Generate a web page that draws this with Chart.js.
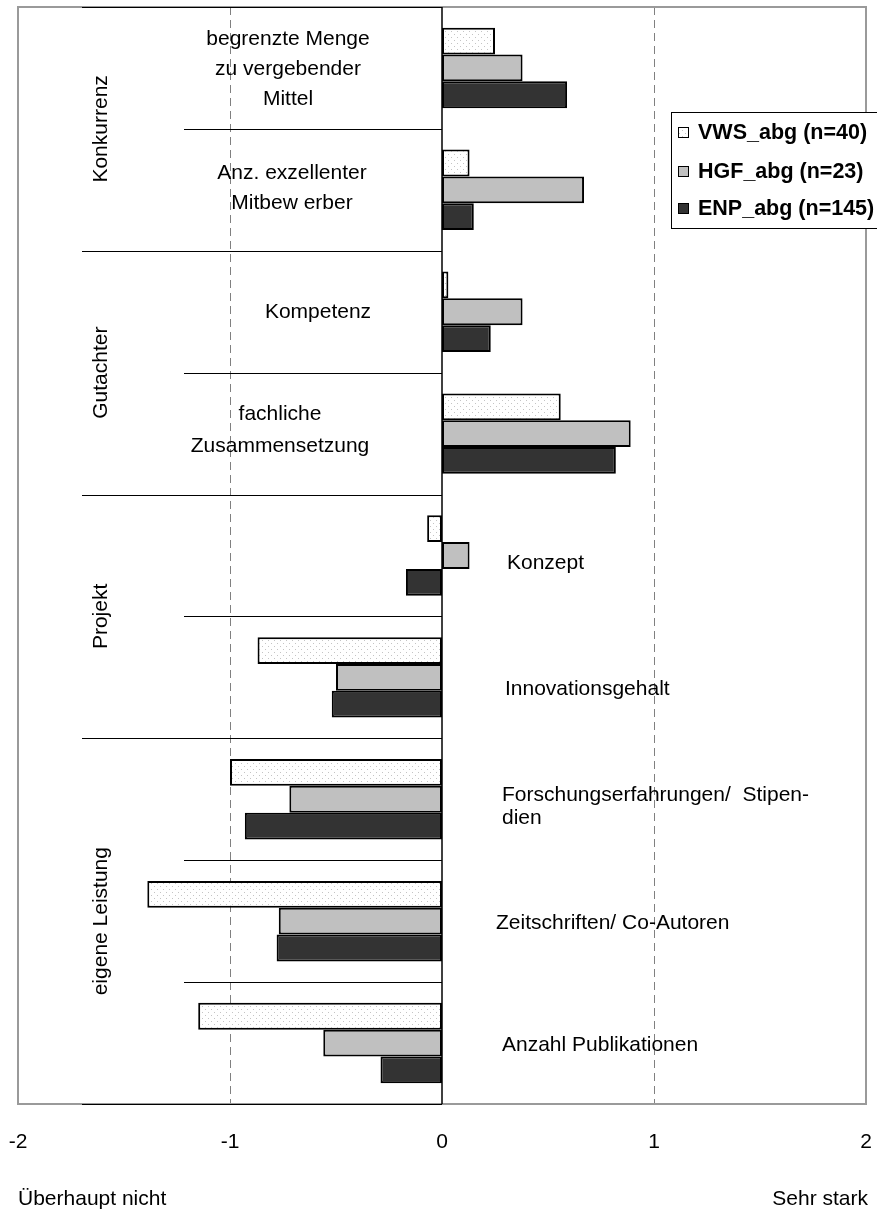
<!DOCTYPE html>
<html>
<head>
<meta charset="utf-8">
<script src="https://cdn.jsdelivr.net/npm/chart.js@4.4.0/dist/chart.umd.min.js"></script>
<style>
html, body { margin: 0; padding: 0; background: #fff; }
#chart { display: block; }
</style>
</head>
<body>
<canvas id="chart" width="877" height="1211"></canvas>
<script>
// Data
const categories = [
    ['begrenzte Menge', 'zu vergebender', 'Mittel'],
    ['Anz. exzellenter', 'Mitbew erber'],
    ['Kompetenz'],
    ['fachliche', 'Zusammensetzung'],
    ['Konzept'],
    ['Innovationsgehalt'],
    ['Forschungserfahrungen/  Stipen-', 'dien'],
    ['Zeitschriften/ Co-Autoren'],
    ['Anzahl Publikationen']
];
const groupNames = ['Konkurrenz', 'Gutachter', 'Projekt', 'eigene Leistung'];
const groupSizes = [2, 2, 2, 3];
const seriesNames = ['VWS_abg (n=40)', 'HGF_abg (n=23)', 'ENP_abg (n=145)'];
const vwsValues = [0.25, 0.13, 0.03, 0.56, -0.07, -0.87, -1.00, -1.39, -1.15];
const hgfValues = [0.38, 0.67, 0.38, 0.89, 0.13, -0.50, -0.72, -0.77, -0.56];
const enpValues = [0.59, 0.15, 0.23, 0.82, -0.17, -0.52, -0.93, -0.78, -0.29];
const xTickValues = [-2, -1, 0, 1, 2];
const scaleLabels = ['Überhaupt nicht', 'Sehr stark'];

// Where each category label sits (x in px, dy from row centre, line height)
const labelLayout = [
    { align: 'center', x: 288, dy: 1, lh: 30 },
    { align: 'center', x: 292, dy: -2, lh: 30 },
    { align: 'center', x: 318, dy: 0, lh: 30 },
    { align: 'center', x: 280, dy: -3, lh: 32 },
    { align: 'left', x: 507, dy: 8, lh: 30 },
    { align: 'left', x: 505, dy: 12, lh: 30 },
    { align: 'left', x: 502, dy: 7, lh: 23 },
    { align: 'left', x: 496, dy: 2, lh: 30 },
    { align: 'left', x: 502, dy: 2, lh: 30 }
];

const FONT = '"Liberation Sans", Arial, sans-serif';

// Dotted fill for the first series
function dotPattern() {
    const c = document.createElement('canvas');
    c.width = 6;
    c.height = 6;
    const g = c.getContext('2d');
    g.fillStyle = '#ffffff';
    g.fillRect(0, 0, 6, 6);
    g.fillStyle = '#c4c4c4';
    g.fillRect(1, 1, 1, 1);
    g.fillRect(4, 4, 1, 1);
    return g.createPattern(c, 'repeat');
}

const ctx = document.getElementById('chart').getContext('2d');
const dots = dotPattern();
const fills = [dots, '#c0c0c0', '#333333'];

const decorPlugin = {
    id: 'decor',
    beforeDatasetsDraw(chart) {
        const { ctx, chartArea: a, scales: { x } } = chart;
        ctx.save();
        // dashed lines at the inner ticks
        ctx.strokeStyle = '#808080';
        ctx.lineWidth = 1;
        ctx.setLineDash([8, 5]);
        xTickValues.filter(v => v !== 0 && v > x.min && v < x.max).forEach(v => {
            const px = Math.round(x.getPixelForValue(v)) + 0.5;
            ctx.beginPath();
            ctx.moveTo(px, a.top);
            ctx.lineTo(px, a.bottom);
            ctx.stroke();
        });
        ctx.setLineDash([]);
        // plot frame
        ctx.strokeStyle = '#9a9a9a';
        ctx.lineWidth = 2;
        ctx.strokeRect(a.left, a.top, a.right - a.left, a.bottom - a.top);
        ctx.restore();
    },
    afterDatasetsDraw(chart) {
        const { ctx, chartArea: a, scales: { x, y } } = chart;
        const x0 = x.getPixelForValue(0);
        const n = categories.length;
        const bound = i => i === 0 ? a.top : i === n ? a.bottom
            : (y.getPixelForValue(i - 1) + y.getPixelForValue(i)) / 2;

        ctx.save();
        // zero line
        ctx.strokeStyle = '#000';
        ctx.lineWidth = 1.5;
        ctx.beginPath();
        ctx.moveTo(x0, a.top);
        ctx.lineTo(x0, a.bottom);
        ctx.stroke();

        // separators left of zero
        const groupStarts = [0];
        groupSizes.forEach(s => groupStarts.push(groupStarts[groupStarts.length - 1] + s));
        ctx.lineWidth = 1;
        for (let i = 0; i <= n; i++) {
            const yy = Math.round(bound(i)) + 0.5;
            const from = groupStarts.includes(i) ? a.left + 64 : a.left + 166;
            ctx.beginPath();
            ctx.moveTo(from, yy);
            ctx.lineTo(x0, yy);
            ctx.stroke();
        }

        // group labels, rotated
        ctx.fillStyle = '#000';
        ctx.font = '21px ' + FONT;
        ctx.textAlign = 'center';
        ctx.textBaseline = 'middle';
        groupNames.forEach((name, gi) => {
            const cy = (bound(groupStarts[gi]) + bound(groupStarts[gi + 1])) / 2;
            ctx.save();
            ctx.translate(a.left + 83, cy);
            ctx.rotate(-Math.PI / 2);
            ctx.fillText(name, 0, 0);
            ctx.restore();
        });

        // category labels
        categories.forEach((lines, i) => {
            const L = labelLayout[i];
            const cy = y.getPixelForValue(i) + L.dy;
            ctx.textAlign = L.align;
            lines.forEach((t, k) => {
                ctx.fillText(t, L.x, cy + (k - (lines.length - 1) / 2) * L.lh);
            });
        });

        // scale end labels
        ctx.textAlign = 'left';
        ctx.fillText(scaleLabels[0], a.left, 1199);
        ctx.textAlign = 'right';
        ctx.fillText(scaleLabels[1], a.right + 2, 1199);

        // legend
        const lx = 671, ly = 112, lw = 220, lh = 116;
        ctx.fillStyle = '#fff';
        ctx.fillRect(lx, ly, lw, lh);
        ctx.strokeStyle = '#000';
        ctx.lineWidth = 1;
        ctx.strokeRect(lx + 0.5, ly + 0.5, lw, lh);
        const rows = [132, 171, 208];
        ctx.font = 'bold 21.5px ' + FONT;
        ctx.textAlign = 'left';
        seriesNames.forEach((name, i) => {
            ctx.fillStyle = fills[i];
            ctx.fillRect(678, rows[i] - 5, 11, 11);
            ctx.strokeRect(678.5, rows[i] - 4.5, 10, 10);
            ctx.fillStyle = '#000';
            ctx.fillText(name, 698, rows[i] + 1);
        });
        ctx.restore();
    }
};

const barStyle = {
    borderColor: '#000',
    borderWidth: 2,
    borderSkipped: false,
    categoryPercentage: 0.66,
    barPercentage: 1.0
};

new Chart(ctx, {
    type: 'bar',
    data: {
        labels: categories,
        datasets: [
            { label: seriesNames[0], data: vwsValues, backgroundColor: fills[0], ...barStyle },
            { label: seriesNames[1], data: hgfValues, backgroundColor: fills[1], ...barStyle },
            { label: seriesNames[2], data: enpValues, backgroundColor: fills[2], ...barStyle }
        ]
    },
    options: {
        indexAxis: 'y',
        responsive: false,
        animation: false,
        layout: { padding: { left: 18, right: 11, top: 7, bottom: 0 } },
        plugins: {
            legend: { display: false },
            tooltip: { enabled: false }
        },
        scales: {
            x: {
                min: -2,
                max: 2,
                afterBuildTicks: axis => {
                    axis.ticks = xTickValues.map(v => ({ value: v }));
                },
                afterFit: axis => {
                    // keep the plot edges at -2 / 2 and leave room for the end labels
                    axis.paddingLeft = 0;
                    axis.paddingRight = 0;
                    axis.height = 107;
                },
                ticks: {
                    font: { size: 21, family: FONT },
                    color: '#000',
                    padding: 18,
                    maxRotation: 0
                },
                grid: { display: false },
                border: { display: false }
            },
            y: {
                display: false
            }
        }
    },
    plugins: [decorPlugin]
});
</script>
</body>
</html>
